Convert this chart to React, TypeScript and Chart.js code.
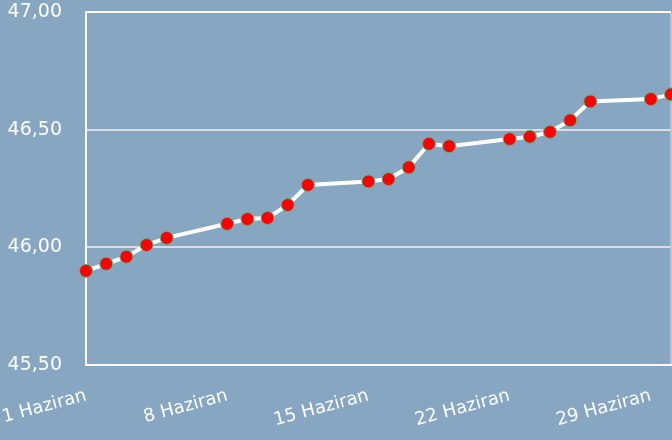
import React, { useEffect, useRef } from "react";
import { Chart, registerables } from "chart.js";

Chart.register(...registerables);

const days = [1, 2, 3, 4, 5, 8, 9, 10, 11, 12, 15, 16, 17, 18, 19, 22, 23, 24, 25, 26, 29, 30];
const values = [
  45.9, 45.93, 45.96, 46.01, 46.04, 46.1, 46.12, 46.125, 46.18, 46.265, 46.28, 46.29, 46.34,
  46.44, 46.43, 46.46, 46.47, 46.49, 46.54, 46.62, 46.63, 46.65,
];
const tickDays = [1, 8, 15, 22, 29];
const lastDay = 30;
const monthName = "Haziran";
const yMin = 45.5;
const yMax = 47;
const yStep = 0.5;

const FONT = "'DejaVu Sans', sans-serif";

export default function App() {
  const ref = useRef<HTMLCanvasElement | null>(null);

  useEffect(() => {
    document.body.style.margin = "0";
    document.body.style.background = "#86a6c2";
    if (!ref.current) return;
    const chart = new Chart(ref.current, {
      type: "line",
      data: {
        datasets: [
          {
            data: days.map((d, i) => ({ x: d, y: values[i] })),
            borderColor: "#ffffff",
            borderWidth: 4,
            pointBackgroundColor: "#ff0000",
            pointBorderColor: "#52b788",
            pointBorderWidth: 1,
            pointRadius: 6.5,
            tension: 0,
            clip: false as any,
          },
        ],
      },
      options: {
        animation: false,
        responsive: false,
        devicePixelRatio: 1,
        layout: { padding: { top: 12, right: 10, left: 0, bottom: 0 } },
        plugins: { legend: { display: false }, tooltip: { enabled: false } },
        scales: {
          x: {
            type: "linear",
            min: tickDays[0],
            max: lastDay,
            afterBuildTicks: (s: any) => {
              s.ticks = [...tickDays, lastDay].map((v) => ({ value: v }));
            },
            afterFit: (s: any) => {
              s.height = 75;
              s.paddingLeft = 0;
              s.paddingRight = 0;
              s.paddingTop = 0;
              s.paddingBottom = 0;
            },
            ticks: {
              autoSkip: false,
              maxRotation: 15,
              minRotation: 15,
              color: "#ffffff",
              padding: 20,
              font: { family: FONT, size: 18 },
              callback: (v: any) => (tickDays.includes(v) ? `${v} ${monthName}` : ""),
            },
            grid: {
              drawTicks: false,
              color: (ctx: any) =>
                ctx.tick && ctx.tick.value === lastDay ? "rgba(255,255,255,0.35)" : "rgba(0,0,0,0)",
              lineWidth: 2,
            },
            border: { color: "#ffffff", width: 2 },
          },
          y: {
            min: yMin,
            max: yMax,
            afterFit: (s: any) => {
              s.width = 86;
              s.paddingLeft = 0;
              s.paddingRight = 0;
              s.paddingTop = 0;
              s.paddingBottom = 0;
            },
            ticks: {
              stepSize: yStep,
              color: "#ffffff",
              padding: 24,
              font: { family: FONT, size: 19 },
              callback: (v: any) => Number(v).toFixed(2).replace(".", ","),
            },
            grid: {
              drawTicks: false,
              color: (ctx: any) => (ctx.tick && ctx.tick.value === yMax ? "#ffffff" : "#d9dde2"),
              lineWidth: 2,
            },
            border: { color: "#ffffff", width: 2 },
          },
        },
      },
    });
    return () => chart.destroy();
  }, []);

  return (
    <div
      style={{
        position: "fixed",
        left: 0,
        top: 0,
        width: 672,
        height: 440,
        overflow: "hidden",
        background: "#86a6c2",
      }}
    >
      <canvas ref={ref} width={681} height={440} style={{ display: "block" }} />
    </div>
  );
}
